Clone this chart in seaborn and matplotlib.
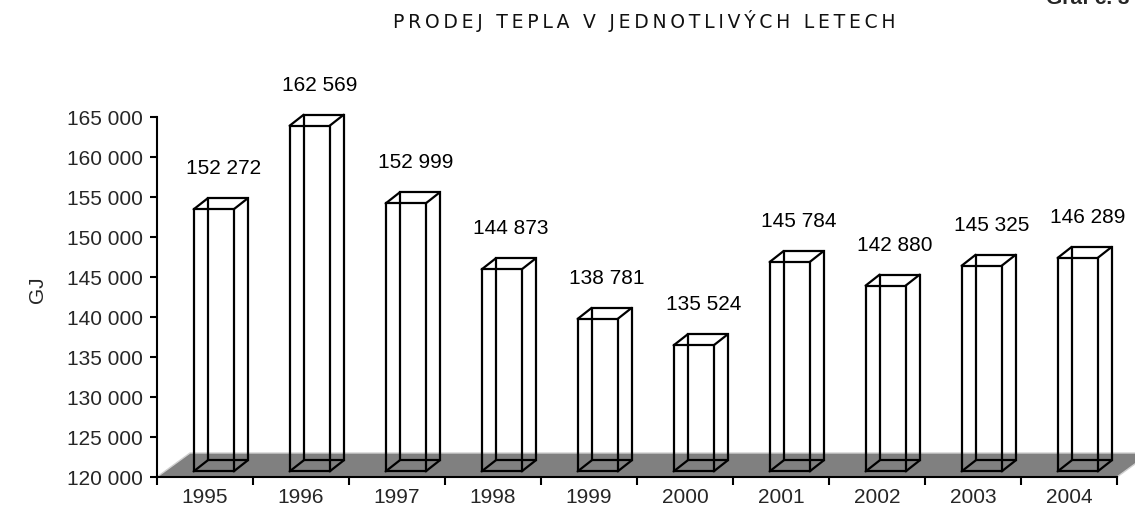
import numpy as np
import pandas as pd
import matplotlib
matplotlib.use("Agg")
import matplotlib.pyplot as plt
import seaborn as sns
from matplotlib.patches import Polygon

years = ["1995", "1996", "1997", "1998", "1999", "2000", "2001", "2002", "2003", "2004"]
values = [152272, 162569, 152999, 144873, 138781, 135524, 145784, 142880, 145325, 146289]
y_ticks = [120000, 125000, 130000, 135000, 140000, 145000, 150000, 155000, 160000, 165000]
title = "PRODEJ TEPLA V JEDNOTLIVÝCH LETECH"

# pseudo 3D geometry (data units: 1 category = 1.0, value units on y)
Y0 = 120000
BAR_W = 0.417
FRONT_BASE = 120700
PERSP = 1.015
DEPTH_X, DEPTH_Y = 0.146, 1375          # bar depth
FLOOR_X, FLOOR_Y = 0.344, 3000          # floor depth
X_SHIFT = 0.59                          # axis start relative to front face centre

sns.set_theme(style="white")
plt.rcParams["font.family"] = ["Liberation Sans", "DejaVu Sans"]

fig = plt.figure(figsize=(11.35, 5.12), dpi=100)
ax = fig.add_axes([157 / 1135, 35 / 512, 960 / 1135, 360 / 512])

df = pd.DataFrame({"year": years, "value": values})
df["top"] = FRONT_BASE + (df["value"] - Y0) * PERSP
df["height"] = df["top"] - FRONT_BASE

# floor
x_left, x_right = -X_SHIFT, len(years) - X_SHIFT
floor = Polygon([(x_left, Y0), (x_right, Y0), (x_right + FLOOR_X, Y0 + FLOOR_Y),
                 (x_left + FLOOR_X, Y0 + FLOOR_Y)], closed=True,
                facecolor="#808080", edgecolor="#d0d0d0", linewidth=1.0,
                clip_on=False, zorder=1)
ax.add_patch(floor)

# front faces
lw = 1.6
sns.barplot(data=df, x="year", y="height", bottom=FRONT_BASE, width=BAR_W,
            fill=False, color="black", linewidth=lw, errorbar=None, ax=ax, zorder=3)

# back faces and connecting edges
for i, top in enumerate(df["top"]):
    l, r = i - BAR_W / 2, i + BAR_W / 2
    b = FRONT_BASE
    bx = [l + DEPTH_X, r + DEPTH_X, r + DEPTH_X, l + DEPTH_X, l + DEPTH_X]
    by = [b + DEPTH_Y, b + DEPTH_Y, top + DEPTH_Y, top + DEPTH_Y, b + DEPTH_Y]
    ax.plot(bx, by, color="black", lw=lw, zorder=3, clip_on=False,
            solid_joinstyle="miter")
    for cx, cy in [(l, b), (r, b), (l, top), (r, top)]:
        ax.plot([cx, cx + DEPTH_X], [cy, cy + DEPTH_Y], color="black", lw=lw,
                zorder=3, clip_on=False)
    ax.text(i + 0.1, top + DEPTH_Y + 3700, f"{values[i]:,}".replace(",", " "),
            ha="center", va="center", fontsize=15, color="black")

ax.set_xlim(x_left, x_right)
ax.set_ylim(120000, 165000)
ax.set_yticks(y_ticks)
ax.set_yticklabels([f"{v:,}".replace(",", " ") for v in y_ticks])
ax.set_xticks(np.arange(len(years) + 1) - X_SHIFT)
ax.set_xticklabels([])
ax.set_xticks(np.arange(len(years)) + 0.5 - X_SHIFT, minor=True)
ax.set_xticklabels(years, minor=True)
ax.tick_params(axis="x", which="major", direction="out", length=6, width=1.5,
               color="black", bottom=True)
ax.tick_params(axis="x", which="minor", length=0, pad=8, labelsize=15)
ax.tick_params(axis="y", direction="out", length=5, width=1.5, color="black",
               left=True, pad=5, labelsize=15)
ax.set_xlabel("")
ax.set_ylabel("")
sns.despine(ax=ax)
for s in ["left", "bottom"]:
    ax.spines[s].set_color("black")
    ax.spines[s].set_linewidth(1.5)
    ax.spines[s].set_zorder(4)
ax.patch.set_alpha(0)

spaced = "\u2009".join(title)
fig.text(644 / 1135, 1 - 21 / 512, spaced, ha="center", va="center",
         fontsize=13.5, family=["DejaVu Sans"], color="#111111")
fig.text(38 / 1135, 1 - 290 / 512, "GJ", ha="center", va="center",
         rotation=90, fontsize=15)
fig.text(1130 / 1135, 1 - 4 / 512, "Graf č. 3", ha="right", va="baseline",
         fontsize=15, fontweight="bold")

fig.savefig("out.png", dpi=100)
